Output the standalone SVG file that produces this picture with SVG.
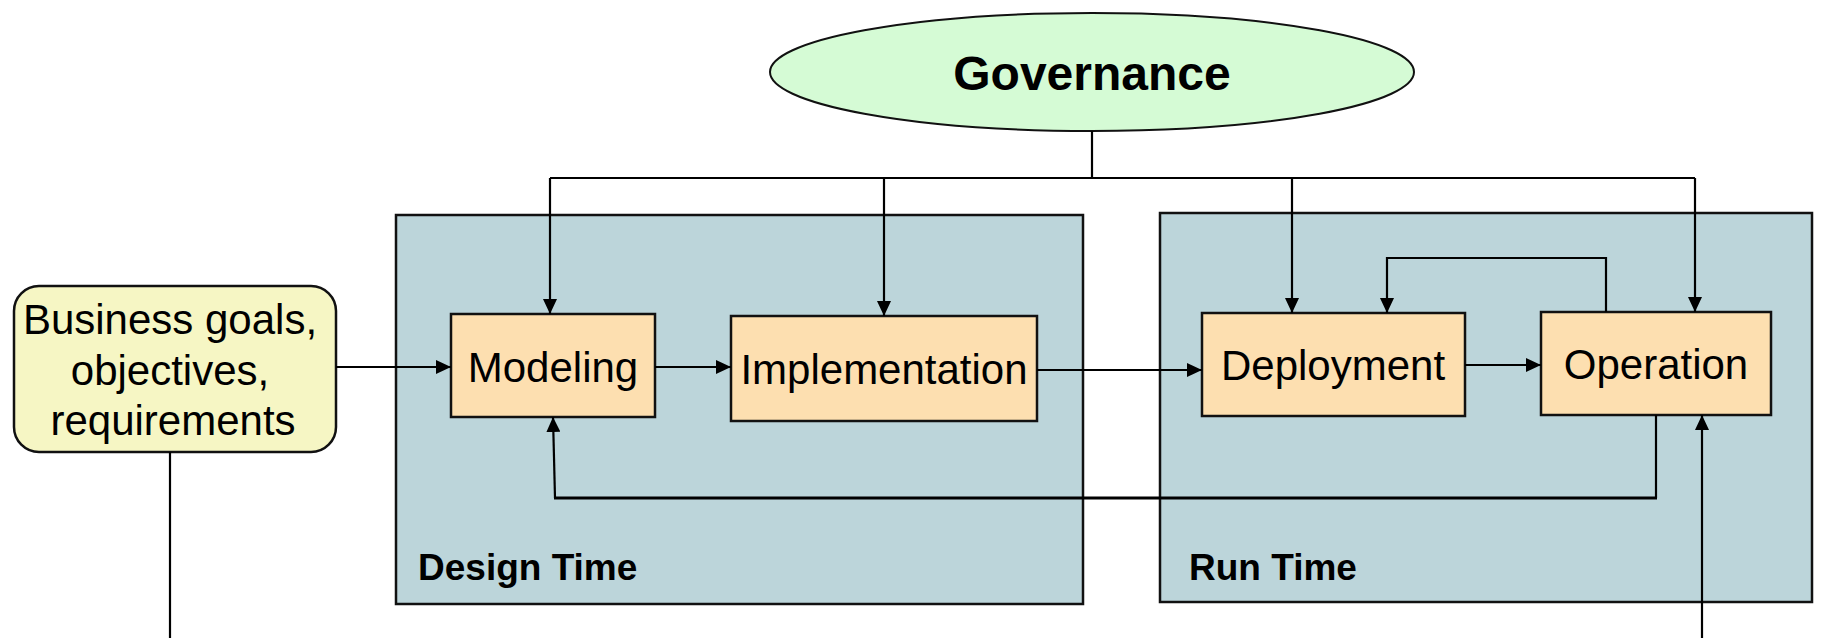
<svg xmlns="http://www.w3.org/2000/svg" width="1841" height="638" viewBox="0 0 1841 638">
  <style>
    .container { fill: #BCD5DA; stroke: #111; stroke-width: 2.5; }
    .node { fill: #FDDFB0; stroke: #111; stroke-width: 2.5; }
    .input { fill: #F6F6C4; stroke: #111; stroke-width: 2.5; }
    .gov { fill: #D5FBD5; stroke: #111; stroke-width: 2; }
    .label { font-family: "Liberation Sans", Arial, sans-serif; font-size: 42px; fill: #000; text-anchor: middle; }
    .title { font-family: "Liberation Sans", Arial, sans-serif; font-size: 37px; font-weight: bold; fill: #000; }
    .govtext { font-family: "Liberation Sans", Arial, sans-serif; font-size: 48px; font-weight: bold; fill: #000; text-anchor: middle; }
    .conn { fill: none; stroke: #000; stroke-width: 2.2; }
    .thick { stroke-width: 3; }
  </style>
  <defs>
    <marker id="arr" viewBox="0 0 15 14" refX="15" refY="7" markerWidth="15" markerHeight="14" orient="auto" markerUnits="userSpaceOnUse">
      <path d="M0,0 L15,7 L0,14 z" fill="#000"/>
    </marker>
  </defs>

  <g id="design-time">
    <rect class="container" x="396" y="215" width="687" height="389"/>
    <text class="title" x="418" y="580">Design Time</text>
  </g>
  <g id="run-time">
    <rect class="container" x="1160" y="213" width="652" height="389"/>
    <text class="title" x="1189" y="580">Run Time</text>
  </g>

  <g id="governance">
    <ellipse class="gov" cx="1092" cy="72" rx="322" ry="59"/>
    <text class="govtext" x="1092" y="90">Governance</text>
  </g>

  <g id="business">
    <rect class="input" x="14" y="286" width="322" height="166" rx="25" ry="25"/>
    <text class="label" x="170" y="334">Business goals,</text>
    <text class="label" x="170" y="385">objectives,</text>
    <text class="label" x="173" y="435">requirements</text>
  </g>

  <g id="modeling">
    <rect class="node" x="451" y="314" width="204" height="103"/>
    <text class="label" x="553" y="382">Modeling</text>
  </g>
  <g id="implementation">
    <rect class="node" x="731" y="316" width="306" height="105"/>
    <text class="label" x="884" y="384">Implementation</text>
  </g>
  <g id="deployment">
    <rect class="node" x="1202" y="313" width="263" height="103"/>
    <text class="label" x="1333" y="380">Deployment</text>
  </g>
  <g id="operation">
    <rect class="node" x="1541" y="312" width="230" height="103"/>
    <text class="label" x="1656" y="379">Operation</text>
  </g>

  <g id="connectors">
    <!-- governance distribution -->
    <path class="conn" d="M1092,131 L1092,178"/>
    <path class="conn" d="M550,178 L1695,178"/>
    <path class="conn" d="M550,178 L550,314" marker-end="url(#arr)"/>
    <path class="conn" d="M884,178 L884,316" marker-end="url(#arr)"/>
    <path class="conn" d="M1292,178 L1292,313" marker-end="url(#arr)"/>
    <path class="conn" d="M1695,178 L1695,312" marker-end="url(#arr)"/>
    <!-- main flow -->
    <path class="conn" d="M336,367 L451,367" marker-end="url(#arr)"/>
    <path class="conn" d="M655,367 L731,367" marker-end="url(#arr)"/>
    <path class="conn" d="M1037,370 L1202,370" marker-end="url(#arr)"/>
    <path class="conn" d="M1465,365 L1541,365" marker-end="url(#arr)"/>
    <!-- operation loop back to deployment -->
    <path class="conn" d="M1606,312 L1606,258 L1387,258 L1387,313" marker-end="url(#arr)"/>
    <!-- feedback to modeling -->
    <path class="conn" d="M1656,415 L1656,498"/>
    <path class="conn thick" d="M1657,498 L554,498"/>
    <path class="conn" d="M555,498 L553,417" marker-end="url(#arr)"/>
    <!-- external lines -->
    <path class="conn" d="M170,452 L170,638"/>
    <path class="conn" d="M1702,638 L1702,415" marker-end="url(#arr)"/>
  </g>
</svg>
